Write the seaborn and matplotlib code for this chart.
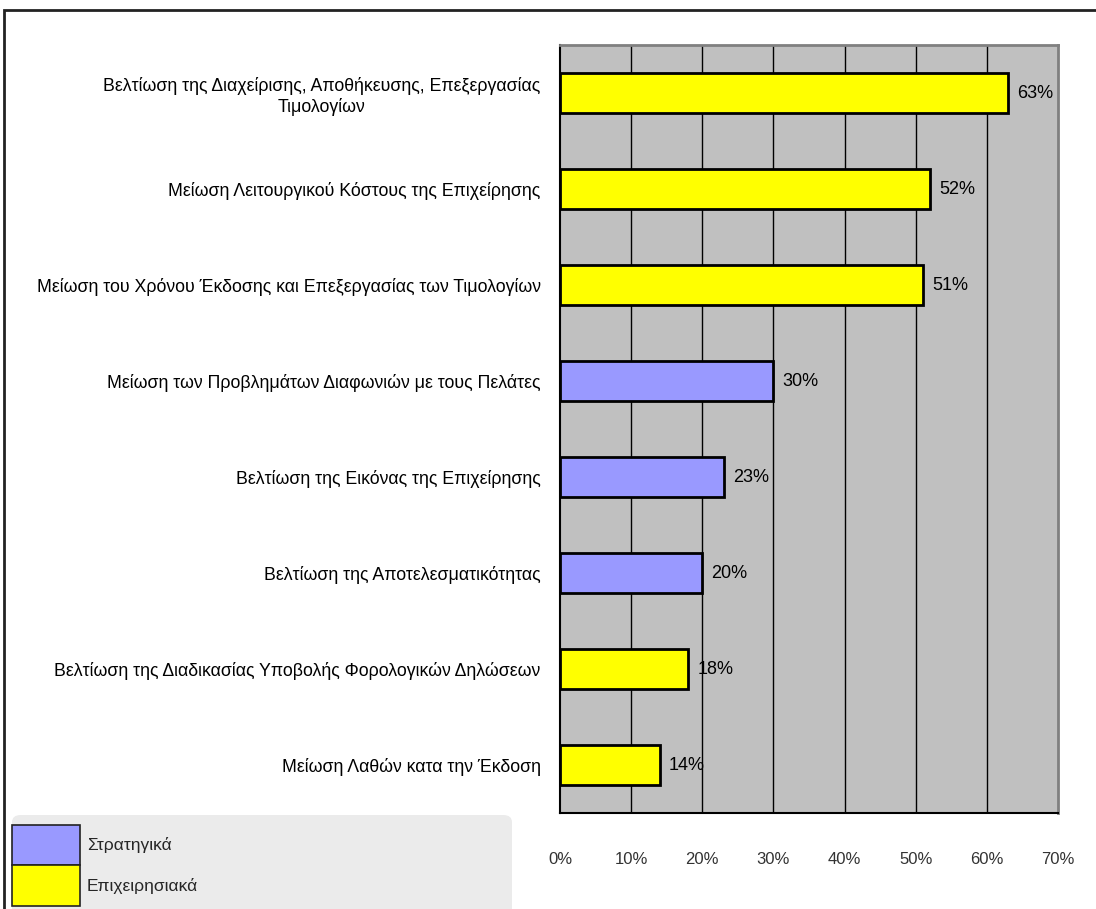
import matplotlib
matplotlib.use("Agg")
import matplotlib.pyplot as plt
from matplotlib.patches import FancyBboxPatch, Rectangle, Patch
from matplotlib.ticker import FixedLocator
import seaborn as sns
import pandas as pd

categories = [
    "Βελτίωση της Διαχείρισης, Αποθήκευσης, Επεξεργασίας\nΤιμολογίων",
    "Μείωση Λειτουργικού Κόστους της Επιχείρησης",
    "Μείωση του Χρόνου Έκδοσης και Επεξεργασίας των Τιμολογίων",
    "Μείωση των Προβλημάτων Διαφωνιών με τους Πελάτες",
    "Βελτίωση της Εικόνας της Επιχείρησης",
    "Βελτίωση της Αποτελεσματικότητας",
    "Βελτίωση της Διαδικασίας Υποβολής Φορολογικών Δηλώσεων",
    "Μείωση Λαθών κατα την Έκδοση",
]
values = [63, 52, 51, 30, 23, 20, 18, 14]
groups = ["Επιχειρησιακά", "Επιχειρησιακά", "Επιχειρησιακά", "Στρατηγικά",
          "Στρατηγικά", "Στρατηγικά", "Επιχειρησιακά", "Επιχειρησιακά"]
legend_order = ["Στρατηγικά", "Επιχειρησιακά"]
xticks = [0, 10, 20, 30, 40, 50, 60, 70]

colors = {"Στρατηγικά": "#9999FF", "Επιχειρησιακά": "#FFFF00"}

sns.set_theme(style="white")
plt.rcParams["font.family"] = ["Liberation Sans", "DejaVu Sans"]

df = pd.DataFrame({"cat": categories, "val": values, "grp": groups})

fig = plt.figure(figsize=(10.96, 9.09), dpi=100)
ax = fig.add_axes([560/1096, 1-813/909, 498/1096, (813-45)/909])
ax.set_facecolor("#C0C0C0")

sns.barplot(data=df, y="cat", x="val", hue="grp", palette=colors, dodge=False,
            order=categories, hue_order=legend_order, width=0.41, saturation=1,
            edgecolor="black", linewidth=2, ax=ax, legend=False, zorder=3)

ax.set_xlim(0, 70)
ax.set_ylim(len(categories) - 0.5, -0.5)
ax.set_xticks(xticks)
ax.set_xticklabels([f"{t}%" for t in xticks], fontsize=12, color="#333333")
ax.set_xlabel("")
ax.set_ylabel("")
for t in xticks[1:-1]:
    ax.axvline(t, color="black", linewidth=1, zorder=1)

ax.tick_params(axis="x", direction="out", length=8, width=1, color="black", pad=20)
ax.tick_params(axis="y", which="major", length=0, pad=14)
ax.yaxis.set_minor_locator(FixedLocator([i - 0.5 for i in range(len(categories) + 1)]))
ax.tick_params(axis="y", which="minor", direction="out", length=5, width=1, color="black")
for lab in ax.get_yticklabels():
    lab.set_fontsize(12.8)
    lab.set_multialignment("center")
    lab.set_color("black")

for s in ["left", "bottom"]:
    ax.spines[s].set_color("black")
    ax.spines[s].set_linewidth(1.5)
for s in ["top", "right"]:
    ax.spines[s].set_color("#808080")
    ax.spines[s].set_linewidth(2)

for i, v in enumerate(values):
    ax.text(v + 1.3, i, f"{v}%", va="center", ha="left", fontsize=13, color="black", zorder=4)

# figure border
fig.patches.append(Rectangle((4/1096, -0.1), 1.2, (909-10)/909 + 0.1, transform=fig.transFigure,
                             fill=False, edgecolor="#222222", linewidth=2))

# legend background
fig.patches.append(FancyBboxPatch((12/1096, -0.05), 500/1096, (909-815)/909 + 0.05,
                                  boxstyle="round,pad=0,rounding_size=0.008",
                                  transform=fig.transFigure, facecolor="#EBEBEB",
                                  edgecolor="none", zorder=0))

handles = [Patch(facecolor=colors[g], edgecolor="#222222", linewidth=1.2) for g in legend_order]
leg = fig.legend(handles, legend_order, loc="upper left",
                 bbox_to_anchor=(12/1096, 1-825/909), frameon=False,
                 fontsize=12.5, handlelength=3.9, handleheight=3.2,
                 labelspacing=0.0, handletextpad=0.4, borderpad=0, borderaxespad=0)

fig.savefig("out.png", dpi=100)
